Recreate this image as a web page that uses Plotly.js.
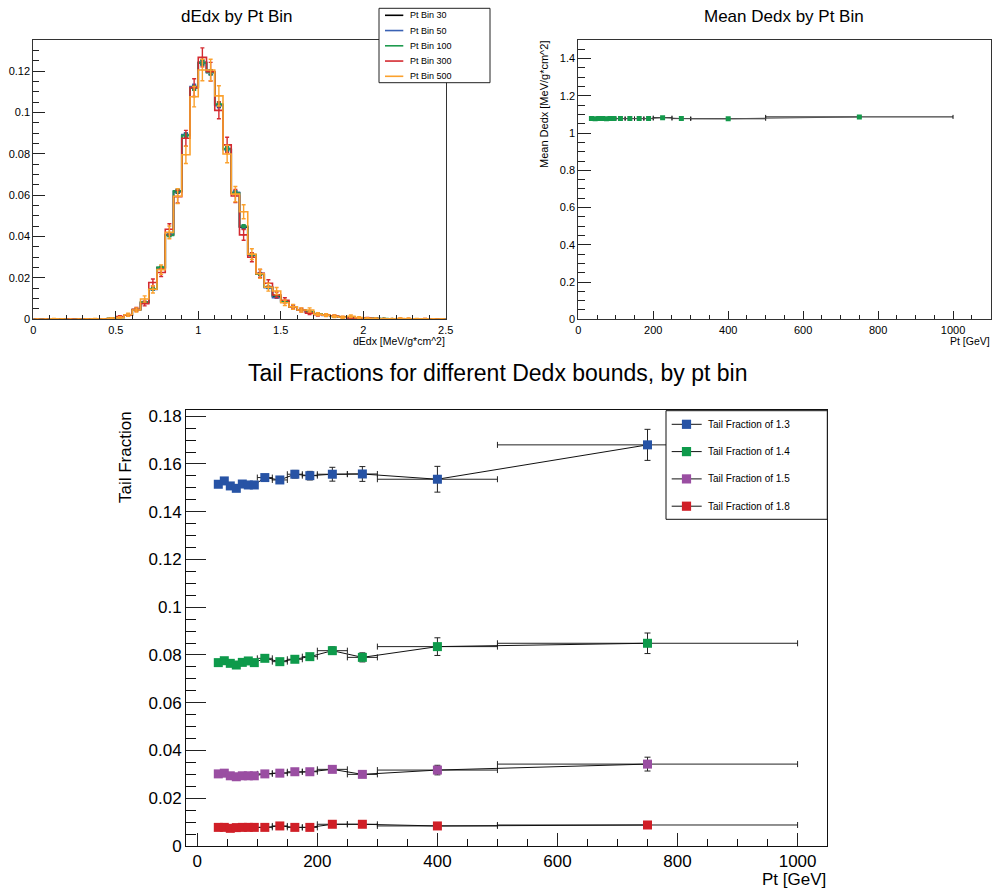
<!DOCTYPE html>
<html>
<head>
<meta charset="utf-8">
<script src="https://cdn.plot.ly/plotly-3.0.1.min.js"></script>
<style>
  html, body { margin: 0; padding: 0; background: #ffffff; }
  #chart { width: 992px; height: 888px; }
</style>
</head>
<body>
<div id="chart"></div>
<script>
// ---------------------------------------------------------------------------
// dE/dx distributions, normalised, one histogram per Pt bin (bin width 0.05)
// ---------------------------------------------------------------------------
const dedxBinWidth = 0.05;
const dedxBinLowEdges = [
  0.00, 0.05, 0.10, 0.15, 0.20, 0.25, 0.30, 0.35, 0.40, 0.45,
  0.50, 0.55, 0.60, 0.65, 0.70, 0.75, 0.80, 0.85, 0.90, 0.95,
  1.00, 1.05, 1.10, 1.15, 1.20, 1.25, 1.30, 1.35, 1.40, 1.45,
  1.50, 1.55, 1.60, 1.65, 1.70, 1.75, 1.80, 1.85, 1.90, 1.95,
  2.00, 2.05, 2.10, 2.15, 2.20, 2.25, 2.30, 2.35, 2.40, 2.45
];

const histPt30 = [
  0, 0, 0, 0, 0.0001, 0, 0.0001, 0.0001, 0.0002, 0.0004,
  0.0009, 0.0021, 0.0046, 0.0082, 0.0146, 0.0250, 0.0408, 0.0617, 0.0890, 0.1120,
  0.1242, 0.1195, 0.1035, 0.0822, 0.0612, 0.0445, 0.0311, 0.0219, 0.0155, 0.0110,
  0.0085, 0.0060, 0.0046, 0.0036, 0.0026, 0.0020, 0.0015, 0.0011, 0.0008, 0.0006,
  0.0005, 0.0004, 0.0003, 0.0003, 0.0003, 0.0002, 0.0002, 0.0002, 0.0001, 0.0001
];
const histPt50 = [
  0, 0, 0, 0, 0, 0.0001, 0.0001, 0.0001, 0.0002, 0.0004,
  0.0010, 0.0020, 0.0045, 0.0080, 0.0144, 0.0248, 0.0411, 0.0620, 0.0893, 0.1125,
  0.1238, 0.1192, 0.1032, 0.0820, 0.0614, 0.0448, 0.0309, 0.0221, 0.0153, 0.0105,
  0.0086, 0.0061, 0.0045, 0.0035, 0.0027, 0.0019, 0.0015, 0.0011, 0.0009, 0.0006,
  0.0005, 0.0004, 0.0003, 0.0003, 0.0002, 0.0002, 0.0002, 0.0001, 0.0001, 0.0001
];
const histPt100 = [
  0, 0, 0, 0.0001, 0, 0.0001, 0.0001, 0.0002, 0.0002, 0.0004,
  0.0009, 0.0021, 0.0047, 0.0083, 0.0147, 0.0251, 0.0405, 0.0621, 0.0888, 0.1118,
  0.1240, 0.1193, 0.1040, 0.0825, 0.0610, 0.0450, 0.0312, 0.0218, 0.0156, 0.0115,
  0.0084, 0.0059, 0.0046, 0.0037, 0.0026, 0.0020, 0.0014, 0.0011, 0.0008, 0.0006,
  0.0005, 0.0004, 0.0004, 0.0003, 0.0002, 0.0002, 0.0002, 0.0001, 0.0001, 0.0001
];
const histPt300 = [
  0, 0, 0, 0, 0.0001, 0, 0.0001, 0, 0.0001, 0.0003,
  0.0013, 0.0020, 0.0048, 0.0076, 0.0178, 0.0226, 0.0435, 0.0593, 0.0875, 0.1120,
  0.1266, 0.1197, 0.1010, 0.0843, 0.0596, 0.0408, 0.0300, 0.0222, 0.0174, 0.0118,
  0.0092, 0.0060, 0.0045, 0.0030, 0.0022, 0.0020, 0.0016, 0.0010, 0.0006, 0.0005,
  0.0006, 0.0003, 0.0002, 0.0001, 0.0003, 0.0002, 0.0001, 0.0002, 0.0001, 0
];
const histPt500 = [
  0, 0, 0.0002, 0.0001, 0, 0, 0.0001, 0.0002, 0.0001, 0.0005,
  0.0008, 0.0022, 0.0045, 0.0098, 0.0145, 0.0240, 0.0420, 0.0595, 0.0795, 0.1076,
  0.1205, 0.1205, 0.1080, 0.0799, 0.0605, 0.0520, 0.0315, 0.0220, 0.0155, 0.0137,
  0.0080, 0.0060, 0.0045, 0.0045, 0.0025, 0.0020, 0.0015, 0.0010, 0.0015, 0.0008,
  0.0005, 0.0004, 0.0002, 0.0002, 0.0004, 0.0003, 0.0002, 0.0002, 0.0001, 0.0001
];

// statistical errors: the three low-Pt samples are large, the high-Pt ones small
const errLowPtBins = [
  0, 0, 0, 0, 0, 0, 0, 0, 0, 0.0001,
  0.0001, 0.0001, 0.0002, 0.0003, 0.0004, 0.0005, 0.0006, 0.0008, 0.0009, 0.0011,
  0.0011, 0.0011, 0.0010, 0.0009, 0.0008, 0.0007, 0.0006, 0.0005, 0.0004, 0.0003,
  0.0003, 0.0002, 0.0002, 0.0002, 0.0002, 0.0001, 0.0001, 0.0001, 0.0001, 0.0001,
  0.0001, 0.0001, 0, 0, 0, 0, 0, 0, 0, 0
];
const errPt300 = [
  0, 0, 0, 0, 0.0001, 0, 0.0001, 0, 0.0001, 0.0002,
  0.0005, 0.0006, 0.0009, 0.0011, 0.0017, 0.0019, 0.0027, 0.0031, 0.0038, 0.0043,
  0.0046, 0.0045, 0.0041, 0.0037, 0.0032, 0.0026, 0.0022, 0.0019, 0.0017, 0.0014,
  0.0012, 0.0010, 0.0009, 0.0007, 0.0006, 0.0006, 0.0005, 0.0004, 0.0003, 0.0003,
  0.0003, 0.0002, 0.0002, 0.0001, 0.0002, 0.0002, 0.0001, 0.0002, 0.0001, 0
];
const errPt500 = [
  0, 0, 0.0002, 0.0001, 0, 0, 0.0001, 0.0002, 0.0001, 0.0003,
  0.0004, 0.0007, 0.0010, 0.0015, 0.0018, 0.0023, 0.0031, 0.0036, 0.0042, 0.0049,
  0.0052, 0.0052, 0.0049, 0.0042, 0.0037, 0.0034, 0.0026, 0.0022, 0.0019, 0.0017,
  0.0013, 0.0012, 0.0010, 0.0010, 0.0007, 0.0007, 0.0006, 0.0005, 0.0006, 0.0004,
  0.0003, 0.0003, 0.0002, 0.0002, 0.0003, 0.0003, 0.0002, 0.0002, 0.0001, 0.0001
];

const histLabels = ['Pt Bin 30', 'Pt Bin 50', 'Pt Bin 100', 'Pt Bin 300', 'Pt Bin 500'];

// ---------------------------------------------------------------------------
// Pt binning shared by the mean and tail-fraction graphs
// ---------------------------------------------------------------------------
const ptCenters    = [35, 45, 55, 65, 75, 85, 95, 112.5, 137.5, 162.5, 187.5, 225, 275, 400, 750];
const ptHalfWidths = [5, 5, 5, 5, 5, 5, 5, 12.5, 12.5, 12.5, 12.5, 25, 25, 100, 250];

const meanDedx    = [1.078, 1.077, 1.078, 1.078, 1.077, 1.078, 1.078, 1.078, 1.078, 1.078, 1.078, 1.083, 1.078, 1.077, 1.087];
const meanDedxErr = [0.001, 0.001, 0.001, 0.001, 0.001, 0.001, 0.001, 0.001, 0.001, 0.001, 0.001, 0.002, 0.002, 0.003, 0.004];

const tail13    = [0.1515, 0.1529, 0.1508, 0.1498, 0.1516, 0.1512, 0.1512, 0.1543, 0.1533, 0.1557, 0.1551, 0.1557, 0.1558, 0.1536, 0.1680];
const tail13Err = [0.0010, 0.0010, 0.0011, 0.0011, 0.0012, 0.0012, 0.0013, 0.0012, 0.0014, 0.0016, 0.0018, 0.0029, 0.0031, 0.0054, 0.0065];
const tail14    = [0.0768, 0.0776, 0.0765, 0.0758, 0.0769, 0.0775, 0.0768, 0.0786, 0.0772, 0.0782, 0.0793, 0.0818, 0.0790, 0.0835, 0.0849];
const tail14Err = [0.0008, 0.0008, 0.0008, 0.0009, 0.0009, 0.0009, 0.0010, 0.0009, 0.0010, 0.0012, 0.0013, 0.0016, 0.0019, 0.0037, 0.0043];
const tail15    = [0.0302, 0.0305, 0.0294, 0.0290, 0.0294, 0.0294, 0.0294, 0.0302, 0.0305, 0.0311, 0.0311, 0.0321, 0.0300, 0.0318, 0.0343];
const tail15Err = [0.0005, 0.0005, 0.0005, 0.0005, 0.0006, 0.0006, 0.0006, 0.0006, 0.0007, 0.0008, 0.0008, 0.0010, 0.0012, 0.0020, 0.0029];
const tail18    = [0.0078, 0.0078, 0.0074, 0.0077, 0.0078, 0.0078, 0.0078, 0.0078, 0.0084, 0.0078, 0.0078, 0.0091, 0.0091, 0.0084, 0.0088];
const tail18Err = [0.0003, 0.0003, 0.0003, 0.0003, 0.0003, 0.0003, 0.0003, 0.0003, 0.0004, 0.0004, 0.0004, 0.0005, 0.0006, 0.0009, 0.0012];

const tailLabels = ['Tail Fraction of 1.3', 'Tail Fraction of 1.4', 'Tail Fraction of 1.5', 'Tail Fraction of 1.8'];

// ---------------------------------------------------------------------------
const FONT = '"Liberation Sans", Arial, Helvetica, sans-serif';
const W = 992, H = 888;
const px = x => x / W;          // pixel column -> paper x
const py = y => 1 - y / H;      // pixel row    -> paper y

const histColors = ['#000000', '#3a62b4', '#1e9a4e', '#d42a30', '#fba12d'];
const tailColors = ['#2753a5', '#0e9a4b', '#9a4ea2', '#d01f27'];

const traces = [];

// --- dE/dx histograms: step outline plus error bars at bin centres ---------
const histValues = [histPt30, histPt50, histPt100, histPt300, histPt500];
const histErrors = [errLowPtBins, errLowPtBins, errLowPtBins, errPt300, errPt500];
const lastEdge = dedxBinLowEdges[dedxBinLowEdges.length - 1] + dedxBinWidth;
const stepX = dedxBinLowEdges.concat([lastEdge]);
const binCenters = dedxBinLowEdges.map(e => e + dedxBinWidth / 2);

histValues.forEach((vals, i) => {
  traces.push({
    type: 'scatter', mode: 'lines', xaxis: 'x', yaxis: 'y',
    x: stepX, y: vals.concat([vals[vals.length - 1]]),
    line: { shape: 'hv', color: histColors[i], width: 1.6 },
    hoverinfo: 'skip', showlegend: false
  });
  traces.push({
    type: 'scatter', mode: 'markers', xaxis: 'x', yaxis: 'y',
    x: binCenters, y: vals,
    marker: { size: 2, color: histColors[i] },
    error_y: { type: 'data', array: histErrors[i], color: histColors[i], thickness: 1.4, width: 2 },
    hoverinfo: 'skip', showlegend: false
  });
});

// --- mean dE/dx vs Pt -------------------------------------------------------
traces.push({
  type: 'scatter', mode: 'lines+markers', xaxis: 'x2', yaxis: 'y2',
  x: ptCenters, y: meanDedx,
  line: { color: '#555555', width: 1 },
  marker: { symbol: 'square', size: 5, color: '#13994b' },
  error_x: { type: 'data', array: ptHalfWidths, color: '#111111', thickness: 1, width: 2 },
  error_y: { type: 'data', array: meanDedxErr, color: '#111111', thickness: 1, width: 2 },
  hoverinfo: 'skip', showlegend: false
});

// --- tail fractions vs Pt ---------------------------------------------------
const tailValues = [tail13, tail14, tail15, tail18];
const tailErrors = [tail13Err, tail14Err, tail15Err, tail18Err];
tailValues.forEach((vals, i) => {
  traces.push({
    type: 'scatter', mode: 'lines+markers', xaxis: 'x3', yaxis: 'y3',
    x: ptCenters, y: vals,
    line: { color: '#111111', width: 1 },
    marker: { symbol: 'square', size: 9, color: tailColors[i] },
    error_x: { type: 'data', array: ptHalfWidths, color: '#222222', thickness: 1, width: 3 },
    error_y: { type: 'data', array: tailErrors[i], color: '#222222', thickness: 1, width: 3 },
    hoverinfo: 'skip', showlegend: false
  });
});

// ---------------------------------------------------------------------------
function frameAxis(opts) {
  return Object.assign({
    showline: true, linecolor: '#333333', linewidth: 1, mirror: true,
    showgrid: false, zeroline: false, ticks: 'inside', tickcolor: '#222222',
    tickwidth: 1, tickfont: { family: FONT, size: 11, color: '#000000' },
    fixedrange: true
  }, opts);
}

const layout = {
  width: W, height: H,
  margin: { l: 0, r: 0, t: 0, b: 0 },
  paper_bgcolor: '#ffffff', plot_bgcolor: '#ffffff',
  showlegend: false,
  font: { family: FONT, color: '#000000' },

  xaxis: frameAxis({ domain: [px(33.3), px(445.7)], range: [0, 2.5], anchor: 'y',
    dtick: 0.5, tick0: 0, ticklen: 8, minor: { dtick: 0.1, ticklen: 4, ticks: 'inside', tickcolor: '#222222' } }),
  yaxis: frameAxis({ domain: [py(319.3), py(40)], range: [0, 0.135], anchor: 'x',
    dtick: 0.02, tick0: 0, ticklen: 12, minor: { dtick: 0.005, ticklen: 6, ticks: 'inside', tickcolor: '#222222' } }),

  xaxis2: frameAxis({ domain: [px(578.3), px(990.5)], range: [0, 1100], anchor: 'y2',
    dtick: 200, tick0: 0, ticklen: 8, minor: { dtick: 50, ticklen: 4, ticks: 'inside', tickcolor: '#222222' } }),
  yaxis2: frameAxis({ domain: [py(319.3), py(40)], range: [0, 1.5], anchor: 'x2',
    dtick: 0.2, tick0: 0, ticklen: 13, minor: { dtick: 0.05, ticklen: 7, ticks: 'inside', tickcolor: '#222222' } }),

  xaxis3: frameAxis({ domain: [px(186), px(827)], range: [-18.8, 1049], anchor: 'y3',
    linecolor: '#111111', tickfont: { family: FONT, size: 17, color: '#000000' },
    dtick: 200, tick0: 0, ticklen: 13, minor: { dtick: 50, ticklen: 7, ticks: 'inside', tickcolor: '#111111' } }),
  yaxis3: frameAxis({ domain: [py(846), py(410)], range: [0, 0.1826], anchor: 'x3',
    linecolor: '#111111', tickfont: { family: FONT, size: 17, color: '#000000' },
    dtick: 0.02, tick0: 0, ticklen: 20, minor: { dtick: 0.005, ticklen: 10, ticks: 'inside', tickcolor: '#111111' } }),

  shapes: [],
  annotations: []
};

function text(str, x, y, size, opts) {
  layout.annotations.push(Object.assign({
    xref: 'paper', yref: 'paper', x: px(x), y: py(y), text: str, showarrow: false,
    font: { family: FONT, size: size, color: '#000000' },
    xanchor: 'center', yanchor: 'middle', borderpad: 0
  }, opts || {}));
}

// titles
text('dEdx by Pt Bin', 236.7, 16, 17);
text('Mean Dedx by Pt Bin', 784, 16, 17);
text('Tail Fractions for different Dedx bounds, by pt bin', 497.5, 373, 23);

// axis titles
text('dEdx [MeV/g*cm^2]', 445.7, 341, 10.5, { xanchor: 'right' });
text('Pt [GeV]', 990.5, 341, 10.5, { xanchor: 'right' });
text('Mean Dedx [MeV/g*cm^2]', 544.5, 40, 11, { textangle: -90, yanchor: 'top' });
text('Pt [GeV]', 827, 879, 17, { xanchor: 'right' });
text('Tail Fraction', 125, 410, 17, { textangle: -90, yanchor: 'top' });

// --- legend of the dE/dx panel ----------------------------------------------
layout.shapes.push({ type: 'rect', xref: 'paper', yref: 'paper',
  x0: px(379), x1: px(490), y0: py(82.7), y1: py(8.3),
  line: { color: '#222222', width: 1 }, fillcolor: '#ffffff', layer: 'above' });
histLabels.forEach((lab, i) => {
  const y = 15.3 + i * 15.25;
  layout.shapes.push({ type: 'line', xref: 'paper', yref: 'paper',
    x0: px(385), x1: px(403.3), y0: py(y), y1: py(y),
    line: { color: histColors[i], width: 1.6 }, layer: 'above' });
  text(lab, 409.3, y, 9, { xanchor: 'left' });
});

// --- legend of the tail-fraction panel ---------------------------------------
layout.shapes.push({ type: 'rect', xref: 'paper', yref: 'paper',
  x0: px(666), x1: px(827.3), y0: py(519.3), y1: py(410.7),
  line: { color: '#111111', width: 1 }, fillcolor: '#ffffff', layer: 'above' });
tailLabels.forEach((lab, i) => {
  const y = 424.3 + i * 27.3;
  layout.shapes.push({ type: 'line', xref: 'paper', yref: 'paper',
    x0: px(671.7), x1: px(701.7), y0: py(y), y1: py(y),
    line: { color: '#111111', width: 1 }, layer: 'above' });
  layout.shapes.push({ type: 'rect', xref: 'paper', yref: 'paper',
    xsizemode: 'pixel', ysizemode: 'pixel', xanchor: px(686.5), yanchor: py(y),
    x0: -4.6, x1: 4.6, y0: -4.6, y1: 4.6,
    line: { width: 0 }, fillcolor: tailColors[i], layer: 'above' });
  text(lab, 706.7, y, 10, { xanchor: 'left' });
});

Plotly.newPlot('chart', traces, layout, { staticPlot: true, displayModeBar: false });
</script>
</body>
</html>
